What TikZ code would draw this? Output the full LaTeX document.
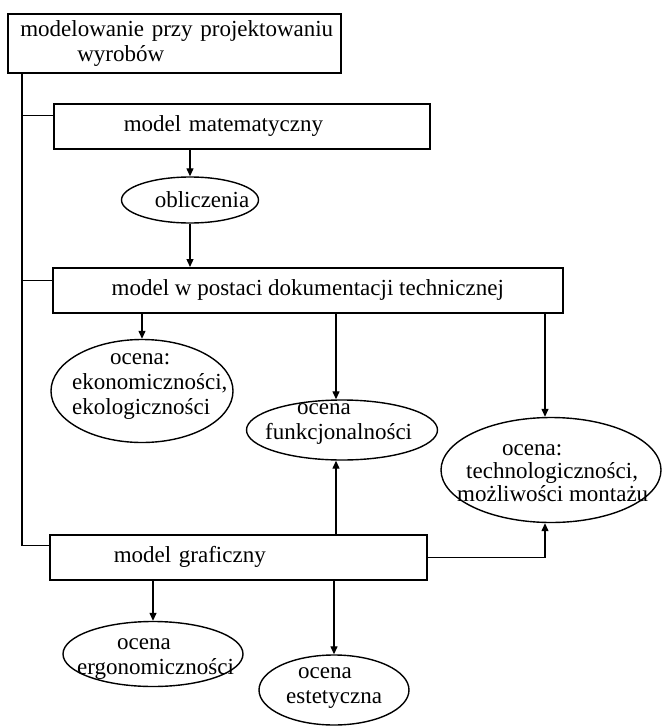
\documentclass[tikz,border=0pt]{standalone}
\usepackage{fontspec}
\setmainfont{Liberation Serif}
\usetikzlibrary{arrows.meta,calc,shapes.geometric}
\begin{document}
\begin{tikzpicture}[x=1pt,y=-1pt,
  every node/.style={font=\fontsize{23}{25}\selectfont},
  box/.style={draw, line width=1.5pt, rectangle, anchor=north west, inner sep=0pt},
  ell/.style={draw, line width=1.4pt, ellipse, inner sep=0pt},
  txt/.style={inner sep=0pt, align=left, anchor=west},
  conn/.style={line width=1.3pt},
  arr/.style={line width=1.3pt, -{Triangle[length=8pt,width=7pt]}}]
\useasboundingbox (0,0) rectangle (662,728);
\fill[white] (0,0) rectangle (662,728);

% boxes
\node[box, inner xsep=1.5pt, text width=330pt, minimum height=59pt, align=left] (top) at (7,13)
  {\hspace*{11pt}modelowanie przy projektowaniu\\\hspace*{68pt}wyrobów};
\node[box, inner xsep=70pt, text width=236pt, minimum height=45pt, align=left] (mm) at (53,103)
  {model matematyczny};
\node[box, minimum width=510pt, minimum height=45pt, align=center] (mp) at (52,267)
  {model w postaci dokumentacji technicznej};
\node[box, inner xsep=64pt, text width=249pt, minimum height=45pt, align=left] (mg) at (49,534)
  {model graficzny};

% ellipses
\node[ell, minimum width=137pt, minimum height=46pt] (obl) at (190,200) {};
\node[inner sep=0pt] (oblT) at (202,200) {obliczenia};

\node[ell, minimum width=182pt, minimum height=103pt] (eko) at (142,391) {};
\node[txt] (ekoT) at (72,387) {\hspace*{38pt}ocena:\\ekonomiczności,\\ekologiczności};

\node[ell, minimum width=191pt, minimum height=60pt] (fun) at (342,430) {};
\node[txt] (funT) at (265,424) {\hspace*{32pt}ocena\\funkcjonalności};

\node[ell, minimum width=220pt, minimum height=105pt] (tech) at (551,470) {};
\node[txt, font=\fontsize{23}{23}\selectfont] (techT) at (457,473)
  {\hspace*{45pt}ocena:\\\hspace*{9pt}technologiczności,\\możliwości montażu};

\node[ell, minimum width=180pt, minimum height=65pt] (erg) at (153,654) {};
\node[txt] (ergT) at (77,659) {\hspace*{40pt}ocena\\ergonomiczności};

\node[ell, minimum width=150pt, minimum height=70pt] (est) at (334,690) {};
\node[txt] (estT) at (286,688) {\hspace*{12pt}ocena\\estetyczna};

% trunk on the left
\coordinate (tr) at (22,0);
\coordinate (b1) at ($(mm.north west)!0.27!(mm.south west)$);
\coordinate (b2) at ($(mp.north west)!0.29!(mp.south west)$);
\coordinate (b3) at ($(mg.north west)!0.25!(mg.south west)$);
\draw[conn] (tr |- top.south) -- (tr |- b3) -- (b3);
\draw[conn] (tr |- b1) -- (b1);
\draw[conn] (tr |- b2) -- (b2);

% columns
\coordinate (cf) at (336,0);
\coordinate (ct) at (545,0);

\draw[arr] (mm.south -| obl.north) -- (obl.north);
\draw[arr] (obl.south) -- (obl.south |- mp.north);
\draw[arr] (mp.south -| eko.north) -- (eko.north);
\draw[arr] (mp.south -| cf) -- (fun.north -| cf);
\draw[arr] (mp.south -| ct) -- (tech.north -| ct);
\draw[arr] (mg.north -| cf) -- (fun.south -| cf);
\draw[arr] (mg.east) -| (tech.south -| ct);
\draw[arr] (mg.south -| erg.north) -- (erg.north);
\draw[arr] (mg.south -| est.north) -- (est.north);
\end{tikzpicture}
\end{document}
